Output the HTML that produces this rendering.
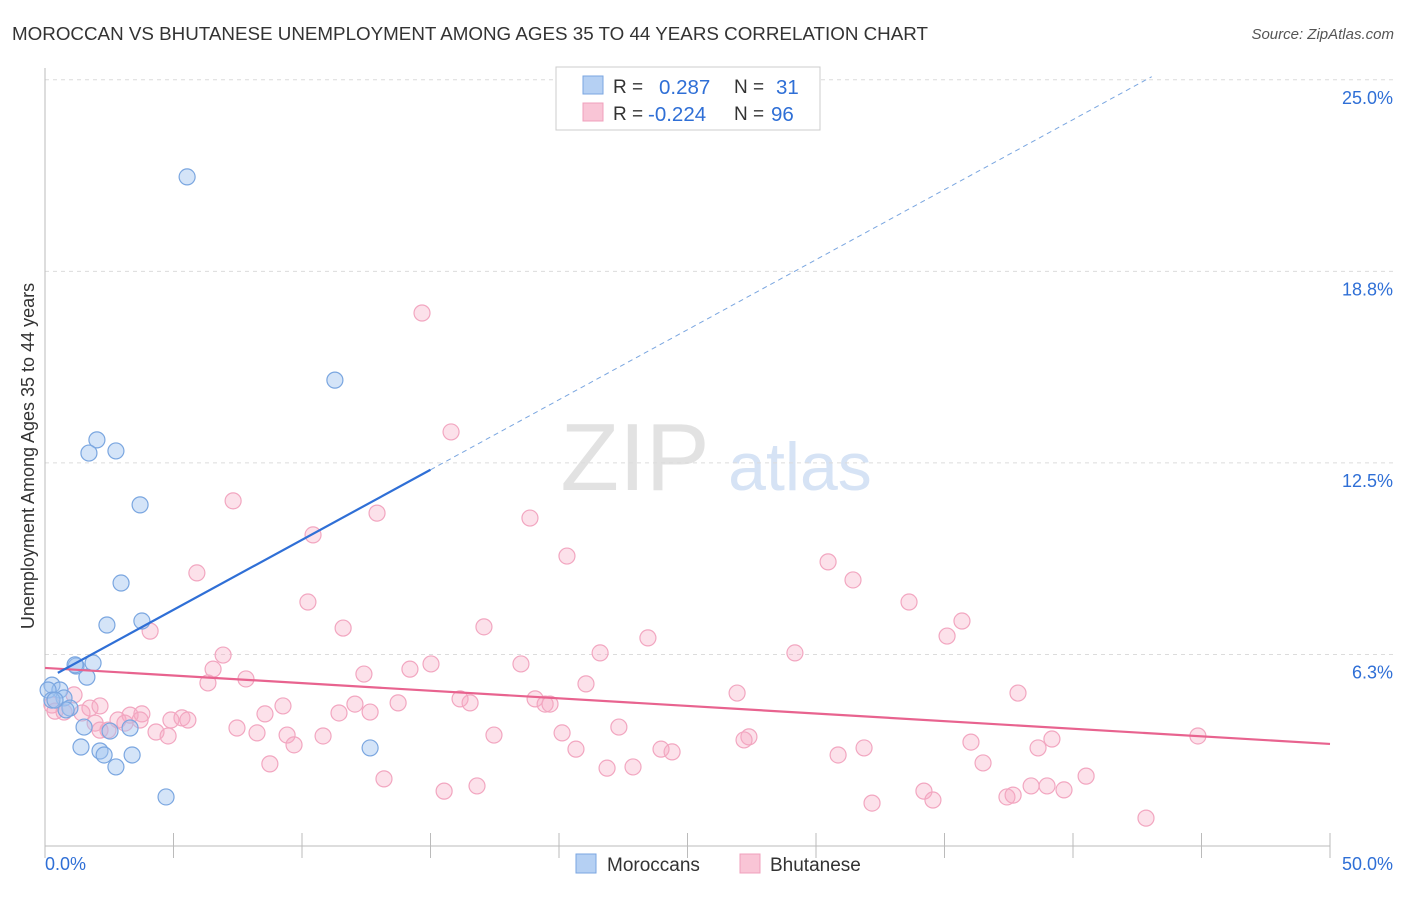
<!DOCTYPE html>
<html><head><meta charset="utf-8">
<style>
body{margin:0;background:#fff;font-family:"Liberation Sans",sans-serif;}
svg text{font-family:"Liberation Sans",sans-serif;}
</style></head><body>
<svg id="chart" width="1406" height="892" viewBox="0 0 1406 892" xmlns="http://www.w3.org/2000/svg">
<text x="12" y="40" font-size="18.8" fill="#333">MOROCCAN VS BHUTANESE UNEMPLOYMENT AMONG AGES 35 TO 44 YEARS CORRELATION CHART</text>
<text x="1394" y="39" font-size="15" fill="#555" font-style="italic" text-anchor="end">Source: ZipAtlas.com</text>
<g>
<text x="635" y="490" font-size="96" fill="#e2e2e2" text-anchor="middle" font-family="Liberation Serif,serif">ZIP</text>
<text x="800" y="490" font-size="68" fill="#d6e3f5" text-anchor="middle">atlas</text>
</g>
<g id="grid"></g>
<g id="axes"></g>
<g id="marks"></g>
<text transform="translate(34,456) rotate(-90)" font-size="18" fill="#333" text-anchor="middle">Unemployment Among Ages 35 to 44 years</text>
<g>
<rect x="556" y="67" width="264" height="63" fill="#fff" stroke="#ccc"/>
<rect x="583" y="76" width="20" height="18" fill="#b5d0f3" stroke="#7aa6e0"/>
<rect x="583" y="103" width="20" height="18" fill="#f9c5d6" stroke="#f0a0bc"/>
<text x="613" y="93" font-size="19" fill="#333">R = </text><text x="659" y="94" font-size="20.5" fill="#2f6fd6">0.287</text>
<text x="734" y="93" font-size="19" fill="#333">N = </text><text x="776" y="94" font-size="20.5" fill="#2f6fd6">31</text>
<text x="613" y="120" font-size="19" fill="#333">R = </text><text x="648" y="121" font-size="20.5" fill="#2f6fd6">-0.224</text>
<text x="734" y="120" font-size="19" fill="#333">N = </text><text x="771" y="121" font-size="20.5" fill="#2f6fd6">96</text>
</g>
<g>
<rect x="576" y="854" width="20" height="19" fill="#b5d0f3" stroke="#7aa6e0"/>
<text x="607" y="871" font-size="19" fill="#333">Moroccans</text>
<rect x="740" y="854" width="20" height="19" fill="#f9c5d6" stroke="#f0a0bc"/>
<text x="770" y="871" font-size="19" fill="#333">Bhutanese</text>
</g>
</svg>
<script>
const xTickLabels=["0.0%","50.0%"];
const yTicks=[6.25,12.5,18.75,25];
const yTickLabels=["6.3%","12.5%","18.8%","25.0%"];
const blueX=[5.53,11.28,2.02,1.71,2.76,3.70,2.96,2.41,3.77,1.21,1.87,1.63,0.27,0.58,0.12,0.74,0.27,0.97,0.82,1.52,2.53,3.31,1.40,2.14,2.30,3.39,2.76,4.71,12.65,0.39,1.17];
const blueY=[21.83,15.20,13.25,12.82,12.89,11.13,8.58,7.21,7.34,5.87,5.97,5.51,5.25,5.09,5.09,4.83,4.76,4.50,4.44,3.88,3.75,3.85,3.23,3.10,2.97,2.97,2.58,1.60,3.20,4.76,5.91];
const pinkX=[14.67,15.80,7.32,12.92,18.87,10.43,20.31,5.91,30.47,31.44,10.23,33.62,35.68,17.08,11.60,4.09,35.10,23.46,21.60,6.93,29.18,15.02,14.20,18.52,6.54,12.41,7.82,6.34,21.05,37.86,26.93,16.15,19.07,16.54,12.06,13.74,9.26,19.46,19.65,1.13,0.27,0.39,0.74,1.75,1.44,2.14,3.31,3.77,2.84,3.70,1.95,3.11,4.90,5.33,5.56,8.56,11.44,12.65,4.32,4.79,7.47,8.25,9.42,9.69,10.82,17.47,20.12,22.33,27.39,27.20,36.03,39.18,38.64,44.86,20.66,23.97,24.40,30.86,31.87,8.75,13.19,36.50,21.87,22.88,15.53,16.81,38.37,38.99,39.65,40.51,34.20,37.43,37.67,34.55,32.18,42.84,2.45,2.14];
const pinkY=[17.39,13.51,11.26,10.86,10.70,10.15,9.46,8.91,9.27,8.68,7.96,7.96,7.34,7.15,7.11,7.01,6.85,6.79,6.30,6.23,6.30,5.94,5.77,5.94,5.77,5.61,5.45,5.32,5.29,4.99,4.99,4.80,4.80,4.67,4.63,4.67,4.57,4.63,4.63,4.93,4.60,4.40,4.37,4.50,4.34,4.57,4.27,4.31,4.11,4.11,4.01,4.01,4.11,4.18,4.11,4.31,4.34,4.37,3.72,3.59,3.85,3.69,3.62,3.30,3.59,3.62,3.69,3.88,3.56,3.46,3.39,3.49,3.20,3.59,3.16,3.16,3.07,2.97,3.20,2.68,2.19,2.71,2.54,2.58,1.79,1.96,1.96,1.96,1.83,2.28,1.79,1.60,1.66,1.50,1.40,0.91,3.78,3.78];
const blueTrend=[5.42,0.457];
const pinkTrend=[5.81,-0.0496];

const NS="http://www.w3.org/2000/svg";
const X=v=>45+v*25.7, Y=v=>846-v*30.65;
function mk(tag,attrs,parent){const e=document.createElementNS(NS,tag);for(const k in attrs)e.setAttribute(k,attrs[k]);parent.appendChild(e);return e;}
const grid=document.getElementById('grid'),axes=document.getElementById('axes'),marks=document.getElementById('marks');
yTicks.forEach((t,i)=>{
 const l=mk('line',{x1:45,x2:1394,y1:Y(t),y2:Y(t),stroke:'#dcdcdc','stroke-dasharray':'4,4'},grid);
 
 
 const tx=mk('text',{x:1393,y:Y(t)+24,'font-size':18,fill:'#2f6fd6','text-anchor':'end'},axes);
 tx.textContent=yTickLabels[i];
 
 
});
const ya=mk('line',{x1:45,x2:45,y1:68,y2:846,stroke:'#bbb'},axes);


const xa=mk('line',{x1:45,x2:1330,y1:846,y2:846,stroke:'#bbb'},axes);


for(let i=0;i<=10;i++){const t=mk('line',{x1:X(i*5),x2:X(i*5),y1:833,y2:858,stroke:'#bbb'},axes);
 
 }
[[0,'start',45],[50,'end',1393]].forEach((d,i)=>{const t=mk('text',{x:d[2],y:870,'font-size':18,fill:'#2f6fd6','text-anchor':d[1]},axes);t.textContent=xTickLabels[i];
 
 });
pinkX.forEach((v,i)=>{const c=mk('circle',{cx:X(v),cy:Y(pinkY[i]),r:8,fill:'rgba(246,170,196,0.35)',stroke:'#f2a6c0','stroke-width':1.2},marks);
 
 });
blueX.forEach((v,i)=>{const c=mk('circle',{cx:X(v),cy:Y(blueY[i]),r:8,fill:'rgba(160,196,240,0.45)',stroke:'#7aa6e0','stroke-width':1.2},marks);
 
 });
const pl=mk('line',{x1:X(0),y1:Y(pinkTrend[0]),x2:X(50),y2:Y(pinkTrend[0]+50*pinkTrend[1]),stroke:'#e8638f','stroke-width':2.2},marks);


const bl=mk('line',{x1:X(0.5),y1:Y(blueTrend[0]+0.5*blueTrend[1]),x2:X(15),y2:Y(blueTrend[0]+15*blueTrend[1]),stroke:'#2f6fd6','stroke-width':2.2},marks);


const xe=(25.1-blueTrend[0])/blueTrend[1];
const bd=mk('line',{x1:X(15),y1:Y(blueTrend[0]+15*blueTrend[1]),x2:X(xe),y2:Y(25.1),stroke:'#7aa6e0','stroke-width':1,'stroke-dasharray':'5,4'},marks);


</script>
</body></html>
